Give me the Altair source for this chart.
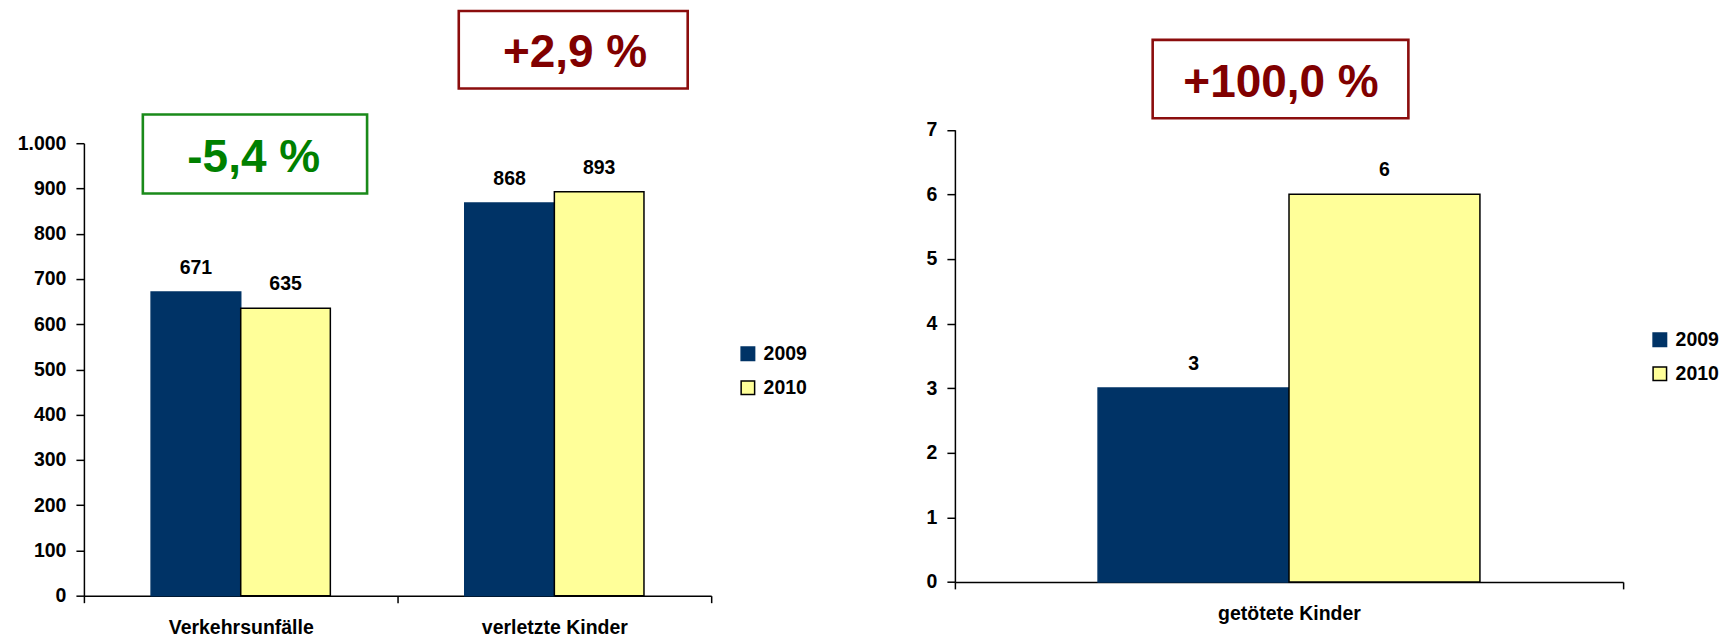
import altair as alt
import pandas as pd

# ---------------- data ----------------
years = ["2009", "2010"]

left_categories = ["Verkehrsunfälle", "verletzte Kinder"]
left_2009 = [671, 868]
left_2010 = [635, 893]
left_changes = ["-5,4 %", "+2,9 %"]
left_ticks = [0, 100, 200, 300, 400, 500, 600, 700, 800, 900, 1000]

right_categories = ["getötete  Kinder"]
right_2009 = [3]
right_2010 = [6]
right_changes = ["+100,0 %"]
right_ticks = [0, 1, 2, 3, 4, 5, 6, 7]

# ---------------- styles ----------------
FILL = ["#003366", "#FFFF99"]
OUTLINE = ["#003366", "#000000"]
GREEN, GREEN_BORDER = "#008000", "#1A8A1A"
RED, RED_BORDER = "#800000", "#8B0D0D"
FONT = "Liberation Sans"
SMALL = 19.5
BIG = 46


def to_long(cats, a, b):
    return pd.DataFrame({
        "cat": [c for c in cats for _ in years],
        "year": years * len(cats),
        "value": [v for pair in zip(a, b) for v in pair],
    })


def make_legend(x, y):
    return alt.Legend(orient="none", legendX=x, legendY=y, title=None)


def panel(df, cats, ymax, ticks, width, height, yrange, label_expr,
          leg_x, leg_y, notes):
    xenc = alt.X("cat:N", sort=cats, title=None,
                 scale=alt.Scale(paddingInner=0, paddingOuter=0),
                 axis=alt.Axis(labelAngle=0, tickBand="extent"))
    xoff = alt.XOffset("year:N", sort=years,
                       scale=alt.Scale(domain=years, paddingInner=0, paddingOuter=0.75))
    yaxis_kw = dict(values=ticks, grid=False)
    if label_expr:
        yaxis_kw["labelExpr"] = label_expr
    yenc = alt.Y("value:Q", title=None,
                 scale=alt.Scale(domain=[0, ymax], nice=False, range=yrange),
                 axis=alt.Axis(**yaxis_kw))
    base = alt.Chart(df)
    bars = base.mark_bar(strokeWidth=1.5).encode(
        x=xenc, xOffset=xoff, y=yenc,
        color=alt.Color("year:N", sort=years,
                        scale=alt.Scale(domain=years, range=FILL),
                        legend=make_legend(leg_x, leg_y)),
        stroke=alt.Stroke("year:N", sort=years,
                          scale=alt.Scale(domain=years, range=OUTLINE),
                          legend=make_legend(leg_x, leg_y)),
    )
    values = base.mark_text(baseline="alphabetic", dy=-18, font=FONT,
                            fontSize=SMALL, fontWeight="bold", color="black").encode(
        x=xenc, xOffset=xoff, y=yenc, text="value:Q")
    layers = [bars, values]
    for n in notes:
        ndf = pd.DataFrame({"label": [n["label"]]})
        box = alt.Chart(ndf).mark_rect(filled=False, stroke=n["border"], strokeWidth=2.6).encode(
            x=alt.value(n["box"][0]), x2=alt.value(n["box"][1]),
            y=alt.value(n["box"][2]), y2=alt.value(n["box"][3]))
        txt = alt.Chart(ndf).mark_text(align="center", baseline="alphabetic", font=FONT,
                                       fontSize=BIG, fontWeight="bold", color=n["color"]).encode(
            x=alt.value(n["text"][0]), y=alt.value(n["text"][1]), text="label:N")
        layers += [box, txt]
    return alt.layer(*layers).properties(width=width, height=height)


left = panel(
    to_long(left_categories, left_2009, left_2010), left_categories, 1000, left_ticks,
    628, 453, [453, 0], "replace(format(datum.value, ','), ',', '.')",
    655, 201,
    [
        {"label": left_changes[0], "color": GREEN, "border": GREEN_BORDER,
         "box": (59, 283.5, -28.7, 50.3), "text": (170, 29.2)},
        {"label": left_changes[1], "color": RED, "border": RED_BORDER,
         "box": (375.3, 604.5, -132.3, -54.7), "text": (491.7, -76.8)},
    ],
)

right = panel(
    to_long(right_categories, right_2009, right_2010), right_categories, 7, right_ticks,
    669, 439.2, [439.2, -13.5], None,
    696, 187,
    [
        {"label": right_changes[0], "color": RED, "border": RED_BORDER,
         "box": (198, 454, -103.5, -25), "text": (326.5, -46)},
    ],
)

chart = alt.hconcat(
    left, right, spacing=244, bounds="flush",
    padding={"left": 9, "top": 1, "right": 5, "bottom": 5},
).resolve_scale(
    color="independent", stroke="independent",
    x="independent", y="independent", xOffset="independent",
).configure_view(
    strokeWidth=0
).configure_axis(
    domainColor="black", domainWidth=1.5, tickColor="black", tickWidth=1.5,
    labelFont=FONT, labelFontSize=SMALL, labelFontWeight="bold", labelColor="black",
).configure_axisX(
    tickSize=7, labelPadding=16
).configure_axisY(
    tickSize=8, labelPadding=10
).configure_legend(
    padding=0, symbolType="square", symbolSize=182, symbolStrokeWidth=1.5,
    labelFont=FONT, labelFontSize=SMALL, labelFontWeight="bold", labelColor="black",
    rowPadding=13, labelOffset=6, symbolOpacity=1,
)

chart.save("out.html", embed_options={"renderer": "svg", "actions": False})
